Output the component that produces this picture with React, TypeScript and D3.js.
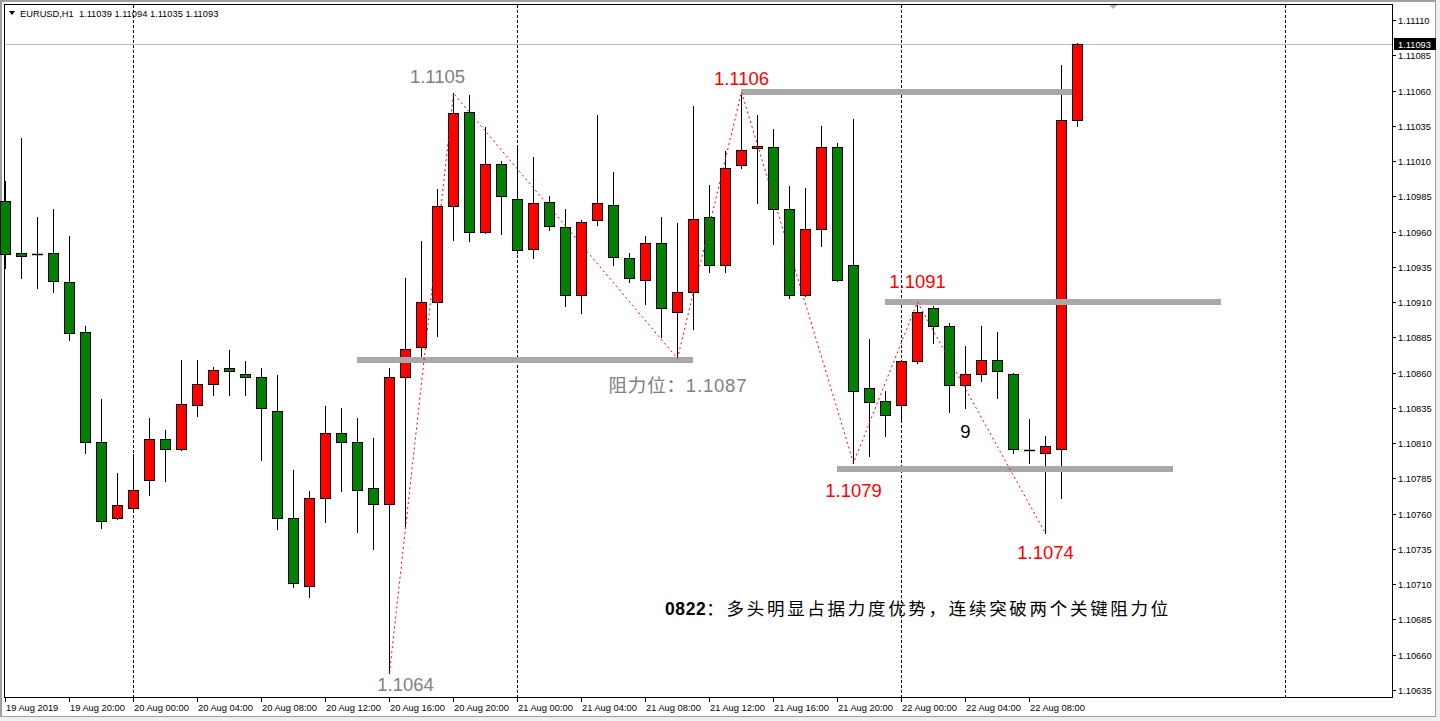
import React from "react";
import * as d3 from "d3";

const symbol = "EURUSD,H1";
const opens = [1.10982,1.10945,1.10944,1.10945,1.10924,1.10889,1.10811,1.10757,1.10764,1.10784,
1.10813,1.10806,1.10837,1.10852,1.10863,1.10859,1.10857,1.10833,1.10757,1.10709,
1.10771,1.10817,1.10811,1.10778,1.10767,1.10857,1.10878,1.10910,1.10978,1.11045,
1.10960,1.11008,1.10983,1.10948,1.10981,1.10963,1.10915,1.10968,1.10979,1.10941,
1.10926,1.10952,1.10903,1.10917,1.10970,1.10936,1.11007,1.11019,1.11020,1.10976,
1.10915,1.10962,1.11020,1.10936,1.10849,1.10840,1.10837,1.10868,1.10906,1.10893,
1.10851,1.10859,1.10869,1.10859,1.10805,1.10803,1.10806,1.11039];
const highs = [1.10996,1.11026,1.10970,1.10976,1.10957,1.10893,1.10841,1.10789,1.10802,1.10828,
1.10819,1.10869,1.10869,1.10864,1.10876,1.10868,1.10863,1.10858,1.10791,1.10776,
1.10836,1.10835,1.10828,1.10814,1.10863,1.10927,1.10953,1.10990,1.11058,1.11057,
1.11034,1.11010,1.11019,1.11013,1.10985,1.10976,1.10968,1.11043,1.11002,1.10945,
1.10957,1.10970,1.10966,1.11049,1.10993,1.11017,1.11059,1.11043,1.11033,1.10992,
1.10991,1.11035,1.11023,1.11040,1.10884,1.10847,1.10869,1.10910,1.10907,1.10895,
1.10879,1.10893,1.10889,1.10860,1.10827,1.10815,1.11078,1.11094];
const lows = [1.10934,1.10927,1.10920,1.10917,1.10883,1.10803,1.10750,1.10756,1.10763,1.10773,
1.10783,1.10805,1.10829,1.10844,1.10844,1.10844,1.10798,1.10749,1.10708,1.10701,
1.10754,1.10776,1.10747,1.10735,1.10647,1.10751,1.10868,1.10886,1.10954,1.10953,
1.10959,1.10958,1.10945,1.10941,1.10961,1.10907,1.10902,1.10965,1.10936,1.10924,
1.10909,1.10885,1.10870,1.10891,1.10931,1.10931,1.11005,1.10980,1.10951,1.10913,
1.10914,1.10950,1.10925,1.10796,1.10801,1.10815,1.10825,1.10867,1.10881,1.10832,
1.10835,1.10854,1.10842,1.10803,1.10796,1.10746,1.10771,1.11035];
const closes = [1.10944,1.10943,1.10944,1.10925,1.10888,1.10811,1.10755,1.10766,1.10777,1.10813,
1.10806,1.10838,1.10852,1.10862,1.10861,1.10857,1.10835,1.10757,1.10711,1.10771,
1.10817,1.10811,1.10777,1.10767,1.10857,1.10877,1.10910,1.10978,1.11044,1.10960,
1.11008,1.10985,1.10947,1.10980,1.10964,1.10915,1.10967,1.10980,1.10942,1.10927,
1.10952,1.10906,1.10917,1.10969,1.10936,1.11005,1.11018,1.11021,1.10976,1.10915,
1.10962,1.11020,1.10926,1.10847,1.10839,1.10830,1.10868,1.10903,1.10893,1.10851,
1.10859,1.10869,1.10861,1.10806,1.10805,1.10808,1.11039,1.11093];

const priceTicks = ["1.11110","1.11085","1.11060","1.11035","1.11010","1.10985","1.10960","1.10935","1.10910","1.10885","1.10860","1.10835","1.10810","1.10785","1.10760","1.10735","1.10710","1.10685","1.10660","1.10635"];
const timeTickIdx = [0,4,8,12,16,20,24,28,32,36,40,44,48,52,56,60,64];
const timeTickLabels = ["19 Aug 2019","19 Aug 20:00","20 Aug 00:00","20 Aug 04:00","20 Aug 08:00","20 Aug 12:00","20 Aug 16:00","20 Aug 20:00","21 Aug 00:00","21 Aug 04:00","21 Aug 08:00","21 Aug 12:00","21 Aug 16:00","21 Aug 20:00","22 Aug 00:00","22 Aug 04:00","22 Aug 08:00"];
const daySepIdx = [8,32,56,80];

const zigIdx = [24,28,42,46,53,57,65];
const zigPrice = [1.10647,1.11058,1.10870,1.11059,1.10796,1.10910,1.10746];

const levelStart = [22,46,55,52];
const levelEnd = [43,66.7,76,73];
const levelPrice = [1.10869,1.11059,1.10910,1.10792];

const annText = ["1.1105","1.1106","1.1091","阻力位：1.1087","1.1079","9","1.1074","1.1064"];
const annIdx = [27,46,57,42,53,60,65,25];
const annPrice = [1.11065,1.11064,1.10920,1.10846,1.10772,1.10814,1.10728,1.10634];
const annColor = ["#808080","#ff0000","#ff0000","#808080","#ff0000","#000000","#ff0000","#808080"];
const noteText = "0822：多头明显占据力度优势，连续突破两个关键阻力位";
const noteIdx = 41.25;
const notePrice = 1.10688;

const W = 1440, H = 721;
const L = 4, T = 4, R = 1392, B = 697;

export default function App() {
  const x = d3.scaleLinear().domain([0, 1]).range([5, 21]);
  const y = d3.scaleLinear().domain([1.10635, 1.1111]).range([690, 20]);
  const cr = (v: number) => Math.round(v) + 0.5;
  const n = opens.length;
  const last = n - 1;
  const header = `${symbol}  ${opens[last].toFixed(5)} ${highs[last].toFixed(5)} ${lows[last].toFixed(5)} ${closes[last].toFixed(5)}`;
  const zig = d3.line<number>().x((d) => x(zigIdx[d]) + 0.5).y((d) => y(zigPrice[d]));
  const font = "'Liberation Sans', Arial, sans-serif";
  const bid = closes[last];

  return (
    <svg width={W} height={H} style={{ position: "absolute", left: 0, top: 0, display: "block" }}>
      <rect x={0} y={0} width={W} height={H} fill="#f0f0f0" />
      <rect x={0} y={0} width={1436} height={717} fill="#a0a0a0" />
      <rect x={2} y={2} width={1433} height={714} fill="#ffffff" />
      <rect x={L + 0.5} y={T + 0.5} width={R - L} height={B - T} fill="none" stroke="#000" />
      {daySepIdx.map((d, i) => (
        <line key={"ds" + i} x1={cr(x(d))} x2={cr(x(d))} y1={T + 1} y2={B} stroke="#000" strokeDasharray="3,2" />
      ))}
      <line x1={L + 1} x2={R} y1={cr(y(bid))} y2={cr(y(bid))} stroke="#c0c0c0" />
      {opens.map((o, i) => {
        const c = closes[i];
        const cx = Math.round(x(i));
        const yh = Math.round(y(highs[i]));
        const yl = Math.round(y(lows[i]));
        const yo = Math.round(y(o));
        const yc = Math.round(y(c));
        const top = Math.min(yo, yc);
        const bot = Math.max(yo, yc);
        const fill = c > o ? "#ff0000" : "#008000";
        return (
          <g key={"c" + i}>
            <line x1={cx + 0.5} x2={cx + 0.5} y1={yh} y2={yl + 1} stroke="#000" />
            {bot - top >= 1 ? (
              <rect x={cx - 4.5} y={top + 0.5} width={10} height={bot - top} fill={fill} stroke="#000" />
            ) : (
              <line x1={cx - 5} x2={cx + 6} y1={top + 0.5} y2={top + 0.5} stroke="#000" strokeWidth={1.5} />
            )}
          </g>
        );
      })}
      {levelPrice.map((p, i) => (
        <line key={"lv" + i} x1={x(levelStart[i])} x2={x(levelEnd[i])} y1={Math.round(y(p))} y2={Math.round(y(p))} stroke="#a9a9a9" strokeWidth={6} />
      ))}
      <path d={zig(d3.range(zigIdx.length)) || ""} fill="none" stroke="#ff0000" strokeWidth={1} strokeDasharray="2,3" />
      {annText.map((t, i) => (
        <text key={"an" + i} x={x(annIdx[i]) + 0.5} y={y(annPrice[i])} textAnchor="middle" fill={annColor[i]}
          fontFamily={"'Liberation Sans', Arial, 'Noto Sans CJK SC', sans-serif"} fontSize={18.5}
          {...(t.length > 8 ? { textLength: 138, lengthAdjust: "spacing" } : {})}>
          {t}
        </text>
      ))}
      <text x={x(noteIdx)} y={y(notePrice)} fill="#000" fontFamily={"'Liberation Sans', Arial, 'Noto Sans CJK SC', sans-serif"}
        fontSize={17.5} letterSpacing={2.7}>
        <tspan fontWeight="bold" letterSpacing={0.6}>{noteText.slice(0, 4)}</tspan>
        <tspan>{noteText.slice(4)}</tspan>
      </text>
      <path d="M1109,5 L1117,5 L1113,9 Z" fill="#b4b4b4" />
      <path d="M9,11 L15,11 L12,15 Z" fill="#000" />
      <text x={20} y={16.5} fontFamily={font} fontSize={9.3} fill="#000" style={{ whiteSpace: "pre" }}>{header}</text>
      {priceTicks.map((t, i) => {
        const yy = Math.round(y(+t));
        return (
          <g key={"pt" + i}>
            <line x1={R + 1} x2={R + 4} y1={yy + 0.5} y2={yy + 0.5} stroke="#000" />
            <text x={R + 6} y={yy + 3.5} fontFamily={font} fontSize={9.3} fill="#000">{t}</text>
          </g>
        );
      })}
      <rect x={R + 2} y={Math.round(y(bid)) - 6} width={42} height={12} fill="#000" />
      <text x={R + 6} y={Math.round(y(bid)) + 3.5} fontFamily={font} fontSize={9.3} fill="#fff">{bid.toFixed(5)}</text>
      {timeTickIdx.map((d, i) => {
        const xx = Math.round(x(d));
        return (
          <g key={"tt" + i}>
            <line x1={xx + 0.5} x2={xx + 0.5} y1={B + 1} y2={B + 5} stroke="#000" />
            <text x={xx + 1} y={711} fontFamily={font} fontSize={9.3} fill="#000">{timeTickLabels[i]}</text>
          </g>
        );
      })}
    </svg>
  );
}
